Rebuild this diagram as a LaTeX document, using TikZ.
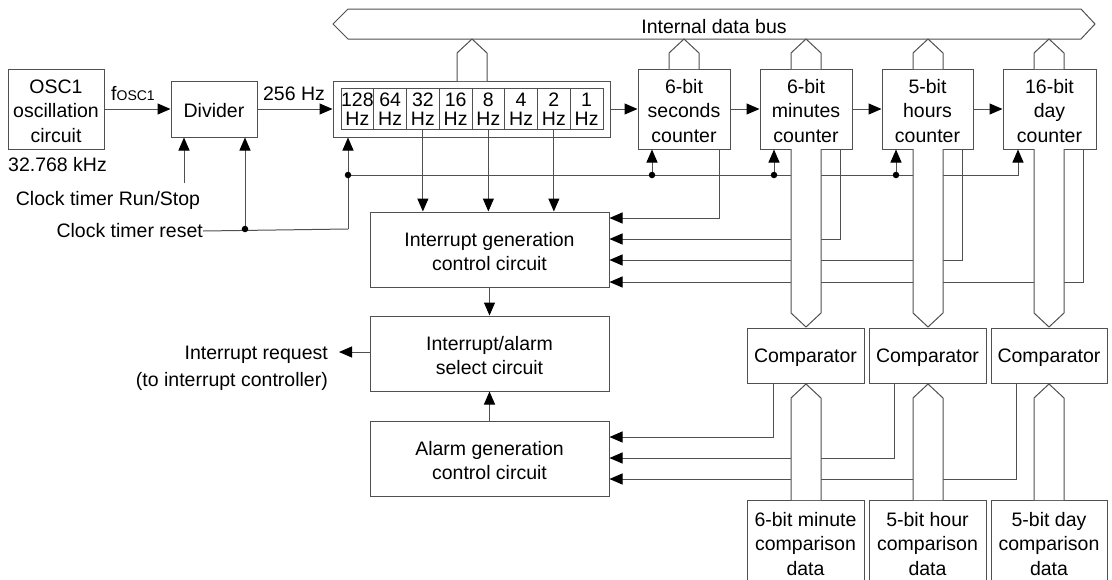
\documentclass[tikz,border=0pt]{standalone}
\usepackage{fontspec}
\setmainfont{Liberation Sans}
\usetikzlibrary{arrows.meta,calc}
\definecolor{lc}{RGB}{80,80,80}
\newcommand\dfont{\fontsize{19.5}{24.5}\selectfont}
\newcommand\cfont{\fontsize{19.5}{19}\selectfont}
\newcommand\bx[6]{\node[box,minimum width={(#4-#2)*1pt},minimum height={(#5-#3)*1pt}] (#1) at ({(#2+#4)/2},{(#3+#5)/2}) {};
  \node[lbl] (#1t) at (#1.center) {#6};}
\begin{document}
\begin{tikzpicture}[x=1pt,y=-1pt,
 box/.style={draw=lc,line width=1pt,fill=white,inner sep=0pt},
 cell/.style={draw=lc,line width=1pt,fill=white,inner sep=0pt,minimum width=32.75pt,minimum height=41pt},
 ln/.style={draw=lc,line width=1pt},
 arr/.style={draw=lc,line width=1pt,-{Triangle[length=13pt,width=11pt,color=black]}},
 bus/.style={draw=lc,line width=1pt,fill=white,line join=miter},
 dot/.style={circle,fill=black,inner sep=0pt,minimum size=6.5pt},
 lbl/.style={inner sep=0pt,font=\dfont,align=center,yshift=-2pt}]
\useasboundingbox (0,0) rectangle (1112,579);

% internal data bus
\draw[bus] (333,24) -- (348,9) -- (1081,9) -- (1095,24) -- (1081,39) -- (348,39) -- cycle;
\node[lbl] (busl) at (714,25) {Internal data bus};

% boxes
\bx{osc}{8}{69}{104}{149}{OSC1\\oscillation\\circuit}
\bx{div}{171}{81}{257}{137}{Divider}
\bx{reg}{333}{81}{610}{137}{}
\foreach \i/\t in {1/128,2/64,3/32,4/16,5/8,6/4,7/2,8/1}{
  \node[cell] (c\i) at ({341+32.75*(\i-0.5)},108.5) {};
  \node[lbl,font=\cfont,yshift=1pt] (c\i t) at (c\i.center) {\t\\Hz};}
\bx{sec}{638}{69}{730}{149}{6-bit\\seconds\\counter}
\bx{min}{760}{69}{852}{149}{6-bit\\minutes\\counter}
\bx{hr}{882}{69}{973}{149}{5-bit\\hours\\counter}
\bx{day}{1003}{69}{1096}{149}{16-bit\\day\\counter}
\bx{igen}{370}{212}{609}{287}{Interrupt generation\\control circuit}
\bx{sel}{370}{316}{609}{391}{Interrupt/alarm\\select circuit}
\bx{agen}{370}{421}{609}{496}{Alarm generation\\control circuit}
\bx{cmp1}{747}{328}{864}{383}{Comparator}
\bx{cmp2}{869}{328}{986}{383}{Comparator}
\bx{cmp3}{991}{328}{1107}{383}{Comparator}
\begin{scope}
\clip (0,0) rectangle (1112,579);
\bx{dat1}{747}{500}{864}{584}{6-bit minute\\comparison\\data}
\bx{dat2}{869}{500}{986}{584}{5-bit hour\\comparison\\data}
\bx{dat3}{991}{500}{1107}{584}{5-bit day\\comparison\\data}
\end{scope}

% labels
\node[lbl,anchor=west] (khz) at (8,163) {32.768 kHz};
\node[lbl] (fosc) at (133,92) {f{\fontsize{14}{14}\selectfont OSC1}};
\node[lbl] (hz256) at (294,92) {256 Hz};
\node[lbl] (rs) at (108,198) {Clock timer Run/Stop};
\node[lbl,anchor=east] (rst) at (203,229) {Clock timer reset};
\node[lbl,anchor=east,align=right] (irqt) at (328,366.5) {Interrupt request\\[2.5pt](to interrupt controller)};

% stubs to the data bus
\draw[bus] (457,81) -- (457,53) -- (472,39) -- (487,53) -- (487,81);
\draw[bus] (669,69) -- (669,53) -- (684,39) -- (699,53) -- (699,69);
\draw[bus] (791,69) -- (791,53) -- (806,39) -- (821,53) -- (821,69);
\draw[bus] (913,69) -- (913,53) -- (928,39) -- (943,53) -- (943,69);
\draw[bus] (1034,69) -- (1034,53) -- (1049,39) -- (1064,53) -- (1064,69);

% main chain
\draw[arr] (osc.east) -- (div.west);
\draw[arr] (div.east) -- (reg.west);
\draw[arr] (reg.east) -- (sec.west);
\draw[arr] (sec.east) -- (min.west);
\draw[arr] (min.east) -- (hr.west);
\draw[arr] (hr.east) -- (day.west);

% run/stop and reset
\coordinate (rsa) at (184,183);
\draw[arr] (rsa) -- (rsa |- div.south);
\coordinate (r1) at (245,229);
\coordinate (r2) at (348,229);
\coordinate (r3) at (348,175);
\coordinate (rd) at (1018,175);
\draw[ln] (rst.east) -- (r2);
\draw[arr] (r2) -- (r2 |- reg.south);
\draw[arr] (r1) -- (r1 |- div.south);
\draw[arr] (r3) -- (rd) -- (rd |- day.south);
\coordinate (d1) at (652,175);
\coordinate (d2) at (774,175);
\coordinate (d3) at (896,175);
\draw[arr] (d1) -- (d1 |- sec.south);
\draw[arr] (d2) -- (d2 |- min.south);
\draw[arr] (d3) -- (d3 |- hr.south);

% frequency taps
\draw[arr] (c3.south) -- (c3.south |- igen.north);
\draw[arr] (c5.south) -- (c5.south |- igen.north);
\draw[arr] (c7.south) -- (c7.south |- igen.north);

% counters to interrupt generation
\coordinate (s1) at (719,218);
\coordinate (s2) at (840,239);
\coordinate (s3) at (962,260);
\coordinate (s4) at (1083,282);
\draw[arr] (s1 |- sec.south) -- (s1) -- (igen.east |- s1);
\draw[arr] (s2 |- min.south) -- (s2) -- (igen.east |- s2);
\draw[arr] (s3 |- hr.south) -- (s3) -- (igen.east |- s3);
\draw[arr] (s4 |- day.south) -- (s4) -- (igen.east |- s4);

% comparators to alarm generation
\coordinate (a1) at (773,437);
\coordinate (a2) at (894,458);
\coordinate (a3) at (1016,479);
\draw[arr] (a1 |- cmp1.south) -- (a1) -- (agen.east |- a1);
\draw[arr] (a2 |- cmp2.south) -- (a2) -- (agen.east |- a2);
\draw[arr] (a3 |- cmp3.south) -- (a3) -- (agen.east |- a3);

% interrupt path
\draw[arr] (igen.south) -- (sel.north);
\draw[arr] (agen.north) -- (sel.south);
\coordinate (irq) at (339,352);
\draw[arr] (sel.west |- irq) -- (irq);

% counter buses down to comparators
\draw[bus] (791,149) -- (791,313) -- (806,327) -- (821,313) -- (821,149);
\draw[bus] (913,149) -- (913,313) -- (928,327) -- (943,313) -- (943,149);
\draw[bus] (1034,149) -- (1034,313) -- (1049,327) -- (1064,313) -- (1064,149);
% comparison data buses up to comparators
\draw[bus] (791,500) -- (791,398) -- (806,384) -- (821,398) -- (821,500);
\draw[bus] (913,500) -- (913,398) -- (928,384) -- (943,398) -- (943,500);
\draw[bus] (1034,500) -- (1034,398) -- (1049,384) -- (1064,398) -- (1064,500);

% junction dots
\foreach \p in {r1,r3,d1,d2,d3} \node[dot] at (\p) {};
\end{tikzpicture}
\end{document}
